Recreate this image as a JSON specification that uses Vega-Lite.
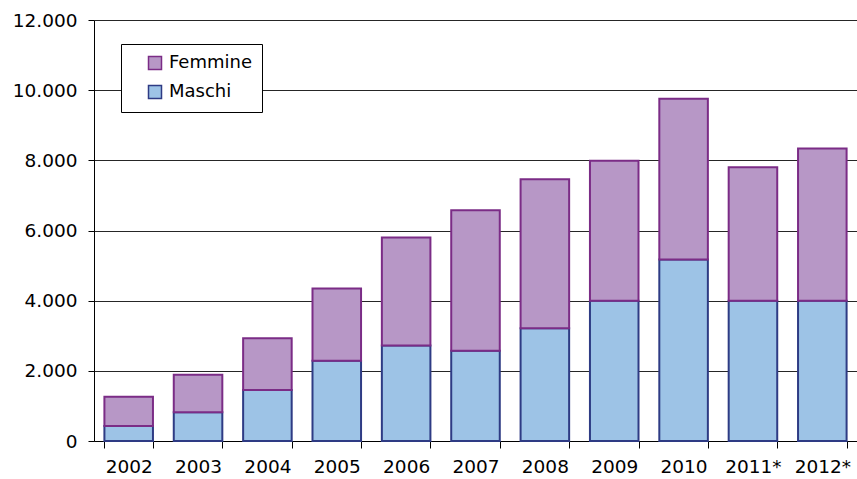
{
  "$schema": "https://vega.github.io/schema/vega-lite/v6.json",
  "autosize": "none",
  "width": 763,
  "height": 421,
  "padding": {"left": 94, "top": 20, "right": 0, "bottom": 38},
  "background": "white",
  "data": {
    "values": [
      {"anno": "2002", "sesso": "Maschi", "valore": 430},
      {"anno": "2002", "sesso": "Femmine", "valore": 834},
      {"anno": "2003", "sesso": "Maschi", "valore": 820},
      {"anno": "2003", "sesso": "Femmine", "valore": 1070},
      {"anno": "2004", "sesso": "Maschi", "valore": 1455},
      {"anno": "2004", "sesso": "Femmine", "valore": 1475},
      {"anno": "2005", "sesso": "Maschi", "valore": 2290},
      {"anno": "2005", "sesso": "Femmine", "valore": 2055},
      {"anno": "2006", "sesso": "Maschi", "valore": 2720},
      {"anno": "2006", "sesso": "Femmine", "valore": 3080},
      {"anno": "2007", "sesso": "Maschi", "valore": 2575},
      {"anno": "2007", "sesso": "Femmine", "valore": 4005},
      {"anno": "2008", "sesso": "Maschi", "valore": 3213},
      {"anno": "2008", "sesso": "Femmine", "valore": 4247},
      {"anno": "2009", "sesso": "Maschi", "valore": 4000},
      {"anno": "2009", "sesso": "Femmine", "valore": 3985},
      {"anno": "2010", "sesso": "Maschi", "valore": 5170},
      {"anno": "2010", "sesso": "Femmine", "valore": 4583},
      {"anno": "2011*", "sesso": "Maschi", "valore": 4000},
      {"anno": "2011*", "sesso": "Femmine", "valore": 3805},
      {"anno": "2012*", "sesso": "Maschi", "valore": 4000},
      {"anno": "2012*", "sesso": "Femmine", "valore": 4336}
    ]
  },
  "mark": {"type": "bar", "strokeWidth": 2},
  "encoding": {
    "x": {
      "field": "anno",
      "type": "nominal",
      "sort": null,
      "scale": {"paddingInner": 0.3, "paddingOuter": 0.15},
      "axis": {
        "title": null,
        "labelAngle": 0,
        "tickBand": "extent",
        "tickSize": 7,
        "tickColor": "black",
        "domainColor": "black",
        "labelPadding": 9,
        "labelFontSize": 18.5,
        "labelFont": "DejaVu Sans",
        "labelColor": "black",
        "grid": false
      }
    },
    "y": {
      "field": "valore",
      "type": "quantitative",
      "stack": "zero",
      "scale": {"domain": [0, 12000], "nice": false},
      "axis": {
        "title": null,
        "values": [0, 2000, 4000, 6000, 8000, 10000, 12000],
        "labelExpr": "replace(format(datum.value, ','), ',', '.')",
        "tickSize": 6,
        "tickColor": "black",
        "domainColor": "black",
        "gridColor": "black",
        "gridOpacity": 0.85,
        "labelPadding": 11,
        "labelFontSize": 18.5,
        "labelFont": "DejaVu Sans",
        "labelColor": "black"
      }
    },
    "color": {
      "field": "sesso",
      "type": "nominal",
      "scale": {"domain": ["Femmine", "Maschi"], "range": ["#B797C6", "#9DC3E6"]},
      "legend": {
        "title": null,
        "orient": "none",
        "legendX": 27,
        "legendY": 24,
        "padding": 10,
        "symbolOffset": 15,
        "symbolType": "square",
        "symbolSize": 169,
        "symbolStrokeWidth": 1.5,
        "symbolOpacity": 1,
        "labelOffset": 5,
        "labelFontSize": 18,
        "labelFont": "DejaVu Sans",
        "labelColor": "black",
        "rowPadding": 9,
        "strokeColor": "black",
        "fillColor": "white"
      }
    },
    "stroke": {
      "field": "sesso",
      "type": "nominal",
      "scale": {"domain": ["Femmine", "Maschi"], "range": ["#7B2C86", "#2E3B84"]},
      "legend": null
    },
    "order": {"field": "sesso", "sort": "descending"}
  },
  "config": {
    "view": {"stroke": null},
    "bar": {"fillOpacity": 1}
  }
}
